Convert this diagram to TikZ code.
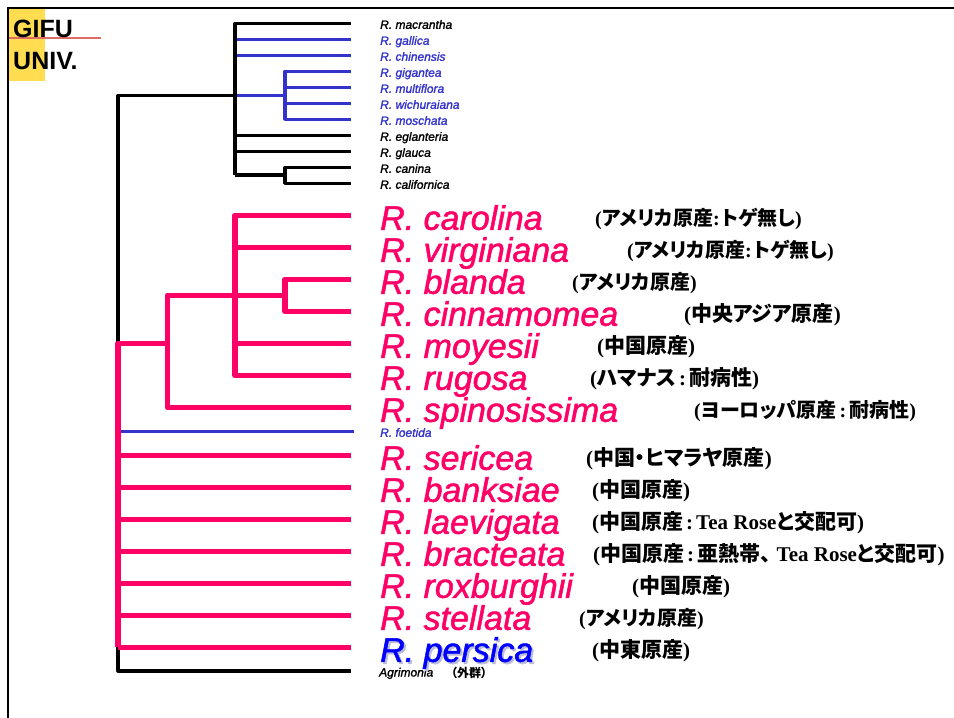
\documentclass[tikz,border=0pt]{standalone}
\usepackage{fontspec}
\setmainfont{Liberation Sans}
\font\namebig="Liberation Sans/I:embolden=1.5" at 34pt
\font\namesmall="Liberation Sans/I:embolden=1.5" at 12pt
\newfontfamily\cjk{Noto Sans CJK JP}[RawFeature=+palt]
\newfontfamily\romfont{Liberation Serif}
\definecolor{rosepink}{RGB}{255,0,102}
\definecolor{roseblue}{RGB}{51,51,204}
\definecolor{logored}{RGB}{222,110,100}
\definecolor{logoyellow}{RGB}{255,220,80}
\newcommand{\rom}[1]{{\romfont\bfseries #1}}
\newcommand{\spcolon}{\rom{\hspace{3pt}:\hspace{3pt}}}
\tikzset{
  bigname/.style={anchor=west,inner sep=0pt,text height=29pt,text depth=0pt,rosepink,font=\namebig},
  smallname/.style={anchor=west,inner sep=0pt,text height=11pt,text depth=0pt,font=\namesmall},
  note/.style={anchor=base west,inner sep=0pt,font=\cjk\bfseries\fontsize{20}{20}\selectfont},
  widenote/.style={note,font=\cjk\bfseries\fontsize{21}{21}\selectfont},
  blackline/.style={line width=3.2pt,line join=round},
  blueline/.style={line width=3.5pt,roseblue,line join=round},
  pinkline/.style={line width=5.5pt,rosepink,line join=round},
  logotext/.style={anchor=base west,inner sep=0pt,font=\bfseries\fontsize{25}{25}\selectfont}
}
\begin{document}
\begin{tikzpicture}[x=1pt,y=-1pt]
\useasboundingbox (0,0) rectangle (954,718);
\draw[line width=2.5pt] (8,718) -- (8,8) -- (954,8);

% logo
\fill[logoyellow] (9,9) rectangle (45,81);
\draw[logored,line width=1.2pt] (9,38) -- (101,38);
\node[logotext] (gifu) at (13,37) {GIFU};
\node[logotext] (univ) at (13,69) {UNIV.};

% junctions
\coordinate (root) at (118,95.3);
\coordinate (top) at (235,95.3);
\coordinate (synstylae) at (285,95.3);
\coordinate (caninae) at (285,175);
\coordinate (toptail) at (235,175);
\coordinate (pinkroot) at (118,343.3);
\coordinate (pinkbase) at (118,647.3);
\coordinate (pinka) at (167.5,343.3);
\coordinate (pinkb) at (167.5,295.3);
\coordinate (pinkc) at (235,295.3);
\coordinate (pinkd) at (285,295.3);

% small names
\node[smallname] (macrantha) at (380,23.3) {R. macrantha};
\node[smallname,roseblue] (gallica) at (380,39.3) {R. gallica};
\node[smallname,roseblue] (chinensis) at (380,55.3) {R. chinensis};
\node[smallname,roseblue] (gigantea) at (380,71.3) {R. gigantea};
\node[smallname,roseblue] (multiflora) at (380,87.3) {R. multiflora};
\node[smallname,roseblue] (wichuraiana) at (380,103.3) {R. wichuraiana};
\node[smallname,roseblue] (moschata) at (380,119.3) {R. moschata};
\node[smallname] (eglanteria) at (380,135.3) {R. eglanteria};
\node[smallname] (glauca) at (380,151.3) {R. glauca};
\node[smallname] (canina) at (380,167.3) {R. canina};
\node[smallname] (californica) at (380,183.3) {R. californica};
\node[smallname,roseblue] (foetida) at (380,431.3) {R. foetida};
\node[smallname] (agrimonia) at (379,671) {Agrimonia};
\node[anchor=base west,inner sep=0pt,font=\cjk\bfseries\fontsize{12}{12}\selectfont] (outgroup) at (451,677) {（外群）};

% big names
\node[bigname] (carolina) at (380,215.3) {R. carolina};
\node[bigname] (virginiana) at (380,247.3) {R. virginiana};
\node[bigname] (blanda) at (380,279.3) {R. blanda};
\node[bigname] (cinnamomea) at (380,311.3) {R. cinnamomea};
\node[bigname] (moyesii) at (380,343.3) {R. moyesii};
\node[bigname] (rugosa) at (380,375.3) {R. rugosa};
\node[bigname] (spinosissima) at (380,407.3) {R. spinosissima};
\node[bigname] (sericea) at (380,455.3) {R. sericea};
\node[bigname] (banksiae) at (380,487.3) {R. banksiae};
\node[bigname] (laevigata) at (380,519.3) {R. laevigata};
\node[bigname] (bracteata) at (380,551.3) {R. bracteata};
\node[bigname] (roxburghii) at (380,583.3) {R. roxburghii};
\node[bigname] (stellata) at (380,615.3) {R. stellata};
\node[bigname,blue!30!gray!40] (persicashadow) at (382,649.3) {R. persica};
\node[bigname,blue] (persica) at (380,647.3) {R. persica};

% notes
\node[note] (carolinanote) at (595,225) {\rom{(}アメリカ原産\rom{:\hspace{2pt}}トゲ無し\rom{)}};
\node[note] (virginiananote) at (627,257) {\rom{(}アメリカ原産\rom{:\hspace{2pt}}トゲ無し\rom{)}};
\node[note] (blandanote) at (572,289) {\rom{(}アメリカ原産\rom{)}};
\node[widenote] (cinnamomeanote) at (684,321) {\rom{(}中央アジア原産\rom{)}};
\node[widenote] (moyesiinote) at (597,353) {\rom{(}中国原産\rom{)}};
\node[widenote] (rugosanote) at (590,385) {\rom{(}ハマナス\spcolon 耐病性\rom{)}};
\node[note] (spinosissimanote) at (694,417) {\rom{(}ヨーロッパ原産\spcolon 耐病性\rom{)}};
\node[widenote] (sericeanote) at (586,465) {\rom{(}中国・ヒマラヤ原産\rom{)}};
\node[widenote] (banksiaenote) at (592,497) {\rom{(}中国原産\rom{)}};
\node[widenote] (laevigatanote) at (592,529) {\rom{(}中国原産\spcolon\rom{Tea Rose}と交配可\rom{)}};
\node[widenote] (bracteatanote) at (593,561) {\rom{(}中国原産\spcolon 亜熱帯、\hspace{6pt}\rom{Tea Rose}と交配可\rom{)}};
\node[widenote] (roxburghiinote) at (632,593) {\rom{(}中国原産\rom{)}};
\node[note] (stellatanote) at (579,625) {\rom{(}アメリカ原産\rom{)}};
\node[widenote] (persicanote) at (592,657) {\rom{(}中東原産\rom{)}};

% blue branches
\draw[blueline,shorten >=29pt] (top |- gallica.west) -- (gallica.west);
\draw[blueline,shorten >=29pt] (top |- chinensis.west) -- (chinensis.west);
\draw[blueline] (top) -- (synstylae);
\draw[blueline,shorten >=29pt] (synstylae) |- (gigantea.west);
\draw[blueline,shorten >=29pt] (synstylae) |- (multiflora.west);
\draw[blueline,shorten >=29pt] (synstylae) |- (wichuraiana.west);
\draw[blueline,shorten >=29pt] (synstylae) |- (moschata.west);
\draw[blueline,line width=3pt,shorten >=26pt] (pinkbase |- foetida.west) -- (foetida.west);

% black branches
\draw[blackline] (pinkroot) -- (root) -- (top);
\draw[blackline,shorten >=29pt] (toptail) -- (top |- macrantha.west) -- (macrantha.west);
\draw[blackline,shorten >=29pt] (top |- eglanteria.west) -- (eglanteria.west);
\draw[blackline,shorten >=29pt] (top |- glauca.west) -- (glauca.west);
\draw[blackline] (toptail) -- (caninae);
\draw[blackline,shorten >=29pt] (caninae) |- (canina.west);
\draw[blackline,shorten >=29pt] (caninae) |- (californica.west);
\draw[blackline,shorten >=28pt] (pinkbase) |- (agrimonia.west);

% pink branches
\draw[pinkline] (pinkbase) -- (pinkroot) -- (pinka);
\draw[pinkline,shorten >=29pt] (pinkd) -- (pinkb) |- (spinosissima.west);
\draw[pinkline,shorten >=29pt] (pinkc) |- (carolina.west);
\draw[pinkline,shorten >=29pt] (pinkc) |- (virginiana.west);
\draw[pinkline,shorten >=29pt] (pinkc) |- (moyesii.west);
\draw[pinkline,shorten >=29pt] (pinkc) |- (rugosa.west);
\draw[pinkline,shorten >=29pt] (pinkd) |- (blanda.west);
\draw[pinkline,shorten >=29pt] (pinkd) |- (cinnamomea.west);
\draw[pinkline,shorten >=29pt] (pinkbase |- sericea.west) -- (sericea.west);
\draw[pinkline,shorten >=29pt] (pinkbase |- banksiae.west) -- (banksiae.west);
\draw[pinkline,shorten >=29pt] (pinkbase |- laevigata.west) -- (laevigata.west);
\draw[pinkline,shorten >=29pt] (pinkbase |- bracteata.west) -- (bracteata.west);
\draw[pinkline,shorten >=29pt] (pinkbase |- roxburghii.west) -- (roxburghii.west);
\draw[pinkline,shorten >=29pt] (pinkbase |- stellata.west) -- (stellata.west);
\draw[pinkline,shorten >=29pt] (pinkbase |- persica.west) -- (persica.west);
\end{tikzpicture}
\end{document}
